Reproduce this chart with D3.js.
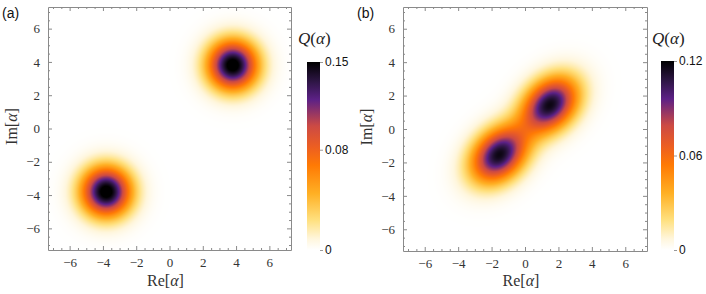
<!DOCTYPE html>
<html>
<head>
<meta charset="utf-8">
<script src="https://cdn.jsdelivr.net/npm/d3@7"></script>
<style>
  body { margin: 0; background: #fff; }
  svg { display: block; }
</style>
</head>
<body>
<div id="chart"></div>
<script>
// axis ticks shared by both panels
const axisTicks = [-6, -4, -2, 0, 2, 4, 6];
const axisDomain = [-7.3, 7.3];
const panelLabels = ["(a)", "(b)"];

// panel (a): two coherent-state peaks
const peakReA = [3.8, -3.8];
const peakImA = [3.8, -3.8];
const peakAmpA = [0.158, 0.158];
const peakMajorA = [1.45, 1.45];
const peakMinorA = [1.45, 1.45];

// panel (b): two squeezed peaks, stretched along the diagonal
const peakReB = [1.5, -1.55];
const peakImB = [1.45, -1.55];
const peakAmpB = [0.116, 0.116];
const peakMajorB = [1.85, 1.85];
const peakMinorB = [1.35, 1.35];

// colour bars
const cbarMaxA = 0.15;
const cbarTicksA = [0, 0.08, 0.15];
const cbarMaxB = 0.12;
const cbarTicksB = [0, 0.06, 0.12];

// sunset-like colour function (0 = white, 1 = black)
const sunsetStops = [0, 0.06, 0.16, 0.3, 0.45, 0.55, 0.66, 0.8, 0.9, 1];
const sunsetColors = ["#ffffff", "#fff6dc", "#ffe07e", "#ffb024", "#ff7a04", "#ec5e22", "#cc4a44", "#5c2186", "#2c1542", "#000000"];

const width = 706;
const height = 294;

const sunset = d3.scaleLinear()
  .domain(sunsetStops)
  .range(sunsetColors)
  .interpolate(d3.interpolateRgb)
  .clamp(true);

const svg = d3.select("#chart")
  .append("svg")
  .attr("width", width)
  .attr("height", height);

const serif = "'Liberation Serif', 'DejaVu Serif', serif";
const sans = "'Liberation Sans', Arial, sans-serif";

function density(re, im, p, rot) {
  let q = 0;
  const c = Math.cos(rot), s = Math.sin(rot);
  for (let i = 0; i < p.re.length; i++) {
    const dx = re - p.re[i], dy = im - p.im[i];
    const u = dx * c + dy * s;
    const v = -dx * s + dy * c;
    q += p.amp[i] * Math.exp(-(u * u) / (p.major[i] * p.major[i]) - (v * v) / (p.minor[i] * p.minor[i]));
  }
  return q;
}

function drawPanel(cfg) {
  const g = svg.append("g");
  const x = d3.scaleLinear().domain(axisDomain).range([cfg.left, cfg.left + cfg.size]);
  const y = d3.scaleLinear().domain(axisDomain).range([cfg.top + cfg.size, cfg.top]);
  const level = d3.scaleLinear().domain([0, cfg.cmax]).range([0, 1]).clamp(true);

  // density image, one canvas pixel per screen pixel
  const n = Math.round(cfg.size);
  const canvas = document.createElement("canvas");
  canvas.width = n; canvas.height = n;
  const ctx = canvas.getContext("2d");
  const img = ctx.createImageData(n, n);
  for (let j = 0; j < n; j++) {
    const im = y.invert(cfg.top + j + 0.5);
    for (let i = 0; i < n; i++) {
      const re = x.invert(cfg.left + i + 0.5);
      const col = d3.rgb(sunset(level(density(re, im, cfg.peaks, cfg.rot))));
      const k = (j * n + i) * 4;
      img.data[k] = col.r; img.data[k + 1] = col.g; img.data[k + 2] = col.b; img.data[k + 3] = 255;
    }
  }
  ctx.putImageData(img, 0, 0);
  g.append("image")
    .attr("x", cfg.left).attr("y", cfg.top)
    .attr("width", cfg.size).attr("height", cfg.size)
    .attr("href", canvas.toDataURL());

  // frame with major/minor ticks on all sides
  const minor = d3.range(-7, 7.01, 0.5).filter(v => Math.abs(v % 2) > 1e-6);
  const tickCol = "#8a8a8a";
  const sides = [
    { ax: d3.axisBottom(x), t: `translate(0,${cfg.top + cfg.size})`, labels: true },
    { ax: d3.axisTop(x), t: `translate(0,${cfg.top})`, labels: false },
    { ax: d3.axisLeft(y), t: `translate(${cfg.left},0)`, labels: true },
    { ax: d3.axisRight(y), t: `translate(${cfg.left + cfg.size},0)`, labels: false }
  ];
  sides.forEach(sd => {
    const major = g.append("g").attr("transform", sd.t)
      .call(sd.ax.tickValues(axisTicks).tickSize(-4).tickSizeOuter(0).tickFormat(d => d < 0 ? "\u2212" + Math.abs(d) : d).tickPadding(8));
    major.select(".domain").attr("stroke", tickCol);
    major.selectAll(".tick line").attr("stroke", tickCol);
    major.selectAll("text")
      .attr("font-family", serif).attr("font-size", 13).attr("fill", "#333")
      .style("display", sd.labels ? null : "none");
    const mn = g.append("g").attr("transform", sd.t)
      .call(sd.ax.tickValues(minor).tickSize(-2).tickSizeOuter(0).tickFormat(""));
    mn.select(".domain").remove();
    mn.selectAll(".tick line").attr("stroke", tickCol);
  });

  // axis labels
  g.append("text")
    .attr("x", cfg.left + cfg.size / 2 - 4).attr("y", 286)
    .attr("text-anchor", "middle")
    .attr("font-family", serif).attr("font-size", 16).attr("fill", "#333")
    .html("Re[<tspan font-style='italic'>\u03b1</tspan>]");
  g.append("text")
    .attr("transform", `translate(${cfg.left - 31},${cfg.top + cfg.size / 2 - 2}) rotate(-90)`)
    .attr("text-anchor", "middle")
    .attr("font-family", serif).attr("font-size", 16).attr("fill", "#333")
    .html("Im[<tspan font-style='italic'>\u03b1</tspan>]");

  // panel tag
  g.append("text")
    .attr("x", cfg.left - 46).attr("y", 18)
    .attr("font-family", sans).attr("font-size", 14).attr("fill", "#111")
    .text(cfg.tag);

  // colour bar
  const cy = d3.scaleLinear().domain([0, cfg.cmax]).range([cfg.cbBottom, cfg.cbTop]);
  const gradId = "grad" + cfg.tag.replace(/\W/g, "");
  const grad = svg.append("defs").append("linearGradient")
    .attr("id", gradId).attr("x1", 0).attr("y1", 1).attr("x2", 0).attr("y2", 0);
  grad.selectAll("stop").data(sunsetStops).enter().append("stop")
    .attr("offset", d => d)
    .attr("stop-color", (d, i) => sunsetColors[i]);
  g.append("rect")
    .attr("x", cfg.cbLeft).attr("y", cfg.cbTop)
    .attr("width", 13).attr("height", cfg.cbBottom - cfg.cbTop)
    .attr("fill", `url(#${gradId})`);
  const cax = g.append("g").attr("transform", `translate(${cfg.cbLeft + 13},0)`)
    .call(d3.axisRight(cy).tickValues(cfg.cticks).tickSize(3).tickPadding(2).tickFormat(d => d === 0 ? "0" : d3.format(".2f")(d)));
  cax.select(".domain").remove();
  cax.selectAll(".tick line").attr("stroke", "#999");
  cax.selectAll("text").attr("font-family", sans).attr("font-size", 12).attr("fill", "#111");

  g.append("text")
    .attr("x", cfg.cbLeft - 9).attr("y", 44)
    .attr("font-family", serif).attr("font-size", 17).attr("fill", "#222")
    .html("<tspan font-style='italic'>Q</tspan>(<tspan font-style='italic'>\u03b1</tspan>)");
}

drawPanel({
  tag: panelLabels[0], left: 48, top: 7, size: 243, rot: 0,
  peaks: { re: peakReA, im: peakImA, amp: peakAmpA, major: peakMajorA, minor: peakMinorA },
  cmax: cbarMaxA, cticks: cbarTicksA, cbLeft: 307, cbTop: 62, cbBottom: 250
});
drawPanel({
  tag: panelLabels[1], left: 403, top: 7, size: 244, rot: Math.PI / 4,
  peaks: { re: peakReB, im: peakImB, amp: peakAmpB, major: peakMajorB, minor: peakMinorB },
  cmax: cbarMaxB, cticks: cbarTicksB, cbLeft: 661, cbTop: 61, cbBottom: 250
});
</script>
</body>
</html>
